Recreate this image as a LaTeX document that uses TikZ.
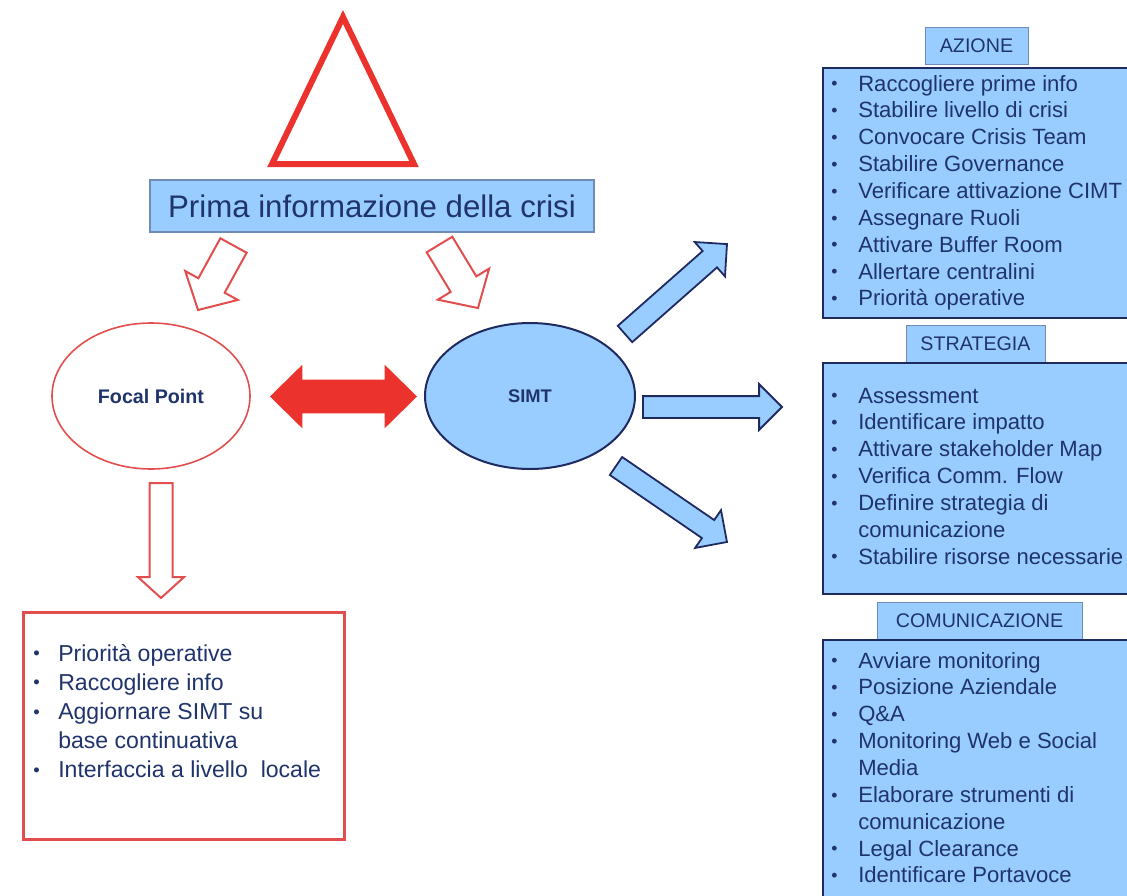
\documentclass[tikz,border=0pt]{standalone}
\usepackage{fontspec}
\setmainfont{Liberation Sans}
\usetikzlibrary{shapes.geometric,shapes.arrows}
\definecolor{crisisred}{RGB}{236,50,44}
\definecolor{softred}{RGB}{226,78,78}
\definecolor{paleblue}{RGB}{153,204,255}
\definecolor{navy}{RGB}{30,42,96}
\definecolor{inkblue}{RGB}{32,52,108}
\definecolor{tabline}{RGB}{112,140,180}
\newdimen\px \px=0.025cm
\def\blt{\raisebox{0.1ex}{\scalebox{0.8}{\textbullet}}}
\def\listL{\fontsize{16.4}{20.7}\selectfont}
\def\listR{\fontsize{15.7}{19.1}\selectfont}

\tikzset{
  hollowarrow/.style={single arrow, draw=softred, fill=white, line width=2\px,
    inner xsep=0pt, outer sep=0pt, anchor=tail},
  bluearrow/.style={single arrow, draw=navy, fill=paleblue, line width=1.8\px,
    inner xsep=0pt, inner ysep=10\px, outer sep=0pt,
    single arrow head extend=12\px, single arrow tip angle=90, anchor=tail},
  tabbox/.style={draw=tabline, fill=paleblue, line width=1\px, minimum height=37\px,
    inner sep=0pt, text=inkblue, font=\fontsize{14}{16}\selectfont},
  listbox/.style={draw=navy, fill=paleblue, line width=2.2\px, anchor=north west,
    inner sep=0pt, minimum width=330\px},
  bullets/.style={anchor=base west, inner sep=0pt, text=inkblue, align=left},
}

\begin{document}
\begin{tikzpicture}[x=0.025cm, y=-0.025cm]
  \useasboundingbox (0,0) rectangle (1127,896);
  \clip (0,0) rectangle (1127,896);

  % warning sign
  \draw[crisisred, line width=6\px, line join=miter] (343,17) -- (414,164) -- (272,164) -- cycle;

  \node[draw=tabline, fill=paleblue, line width=1.2\px, minimum width=444\px,
    minimum height=52\px, inner sep=0pt, text=inkblue,
    font=\fontsize{22.2}{25}\selectfont] (prima) at (372,206) {Prima informazione della crisi};

  % hollow arrows
  \node[hollowarrow, rotate=-118.8, minimum height=73.6\px, inner ysep=14\px,
    single arrow head extend=15\px, single arrow tip angle=94] (toFocal) at (233.5,245.5) {};
  \node[hollowarrow, rotate=-58.8, minimum height=74.3\px, inner ysep=14\px,
    single arrow head extend=15\px, single arrow tip angle=94] (toSimt) at (439.5,244.5) {};

  % the two centres
  \node[ellipse, draw=softred, line width=1.6\px, minimum width=198\px, minimum height=146\px,
    inner sep=0pt, text=inkblue, font=\fontsize{14}{16}\selectfont\bfseries] (focal) at (151,396) {Focal Point};
  \node[ellipse, draw=navy, fill=paleblue, line width=2\px, minimum width=210\px, minimum height=146\px,
    inner sep=0pt, text=inkblue, font=\fontsize{13}{15}\selectfont\bfseries] (simt) at (530,396) {SIMT};

  \node[double arrow, fill=crisisred, minimum height=147\px,
    inner xsep=0pt, inner ysep=16.5\px, double arrow head extend=15\px,
    double arrow tip angle=89] (link) at (343.5,396.5) {};

  % focal point tasks
  \node[hollowarrow, rotate=-90, minimum height=115\px, inner ysep=10.5\px,
    single arrow head extend=11.5\px, single arrow tip angle=95.5] (toList) at (161,483) {};
  \node[draw=softred, line width=2.5\px, minimum width=321\px, minimum height=227\px,
    anchor=north west, inner sep=0pt] (focalbox) at (22,611) {};
  \node[bullets, font=\listL] (focallist) at (33,661) {%
    \begin{tabular}[t]{@{}p{25\px}@{}l@{}}
      \blt & Priorità operative\\
      \blt & Raccogliere info\\
      \blt & Aggiornare SIMT su\\
           & base continuativa\\
      \blt & Interfaccia a livello\ \ locale
    \end{tabular}};

  % SIMT outputs
  \node[bluearrow, rotate=41.4, minimum height=136\px] (toAzione) at (625,334) {};
  \node[bluearrow, rotate=0, minimum height=139\px] (toStrategia) at (643,407) {};
  \node[bluearrow, rotate=-34.4, minimum height=134.5\px] (toComunica) at (616,466) {};

  % AZIONE
  \node[tabbox, minimum width=103\px] (azione) at (976.5,46) {AZIONE};
  \node[listbox, minimum height=250\px] (azionebox) at (822,67) {};
  \node[bullets, font=\listR] (azionelist) at (831,91) {%
    \begin{tabular}[t]{@{}p{27\px}@{}l@{}}
      \blt & Raccogliere prime info\\
      \blt & Stabilire livello\ di crisi\\
      \blt & Convocare Crisis Team\\
      \blt & Stabilire Governance\\
      \blt & Verificare attivazione CIMT\\
      \blt & Assegnare Ruoli\\
      \blt & Attivare Buffer Room\\
      \blt & Allertare\ centralini\\
      \blt & Priorità operative
    \end{tabular}};

  % STRATEGIA
  \node[tabbox, minimum width=139\px] (strategia) at (975.5,343.5) {STRATEGIA};
  \node[listbox, minimum height=231\px] (strategiabox) at (822,362) {};
  \node[bullets, font=\listR] (strategialist) at (831,403) {%
    \begin{tabular}[t]{@{}p{27\px}@{}l@{}}
      \blt & Assessment\\
      \blt & Identificare impatto\\
      \blt & Attivare stakeholder Map\\
      \blt & Verifica Comm. Flow\\
      \blt & Definire strategia di\\
           & comunicazione\\
      \blt & Stabilire risorse necessarie
    \end{tabular}};

  % COMUNICAZIONE
  \node[tabbox, minimum width=205\px] (comunica) at (979.5,620.5) {COMUNICAZIONE};
  \node[listbox, minimum height=280\px] (comunicabox) at (822,639) {};
  \node[bullets, font=\listR] (comunicalist) at (831,668) {%
    \begin{tabular}[t]{@{}p{27\px}@{}l@{}}
      \blt & Avviare monitoring\\
      \blt & Posizione Aziendale\\
      \blt & Q\&A\\
      \blt & Monitoring Web e Social\\
           & Media\\
      \blt & Elaborare strumenti\ di\\
           & comunicazione\\
      \blt & Legal Clearance\\
      \blt & Identificare Portavoce
    \end{tabular}};
\end{tikzpicture}
\end{document}
